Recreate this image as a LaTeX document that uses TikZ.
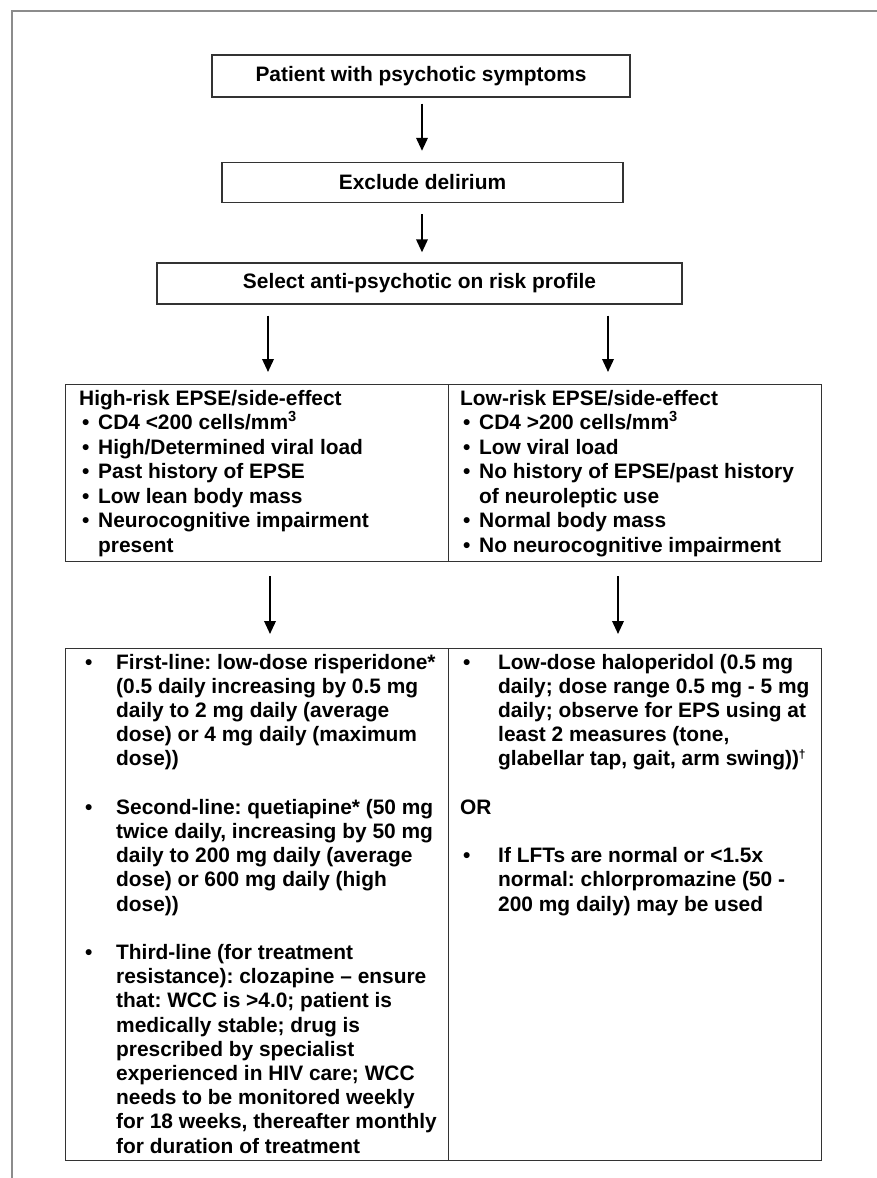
\documentclass[tikz,border=0pt]{standalone}
\usepackage{fontspec}
\setmainfont{Liberation Sans}
\usetikzlibrary{arrows.meta}
\newcommand\mytf{\bfseries\fontsize{20.9}{24.2}\selectfont\frenchspacing}
\begin{document}
\frenchspacing
\begin{tikzpicture}[x=1pt,y=-1pt,
  box/.style={draw=black!80, line width=1.4pt, inner sep=0pt, font=\mytf},
  cell/.style={draw=black!80, line width=1.4pt, inner sep=0pt, anchor=north west},
  arr/.style={-{Triangle[length=13pt,width=11.5pt]}, line width=2pt},
  txt/.style={anchor=base west, inner sep=0pt, font=\mytf},
  frame/.style={draw=black!45, line width=2pt}]
\useasboundingbox (0,0) rectangle (877,1178);
\fill[white] (0,0) rectangle (877,1178);
\draw[frame] (877,11) -- (12,11) -- (12,1178);

% top boxes
\node[box, minimum width=418pt, minimum height=42pt] (b1) at (421,76) {Patient with psychotic symptoms};
\node[box, minimum width=401pt, minimum height=40pt] (b2) at (422.5,182.5) {Exclude delirium};
\node[box, minimum width=525pt, minimum height=41pt] (b3) at (419.5,283.5) {Select anti-psychotic on risk profile};

% tables
\node[cell, minimum width=383pt, minimum height=177pt] (hr) at (65,384) {};
\node[cell, minimum width=373pt, minimum height=177pt] (lr) at (448,384) {};
\node[cell, minimum width=383pt, minimum height=512pt] (ht) at (65,648) {};
\node[cell, minimum width=373pt, minimum height=512pt] (lt) at (448,648) {};

% arrow x positions
\coordinate (xa) at (422,0);
\coordinate (xl3) at (268,0);
\coordinate (xr3) at (608,0);
\coordinate (xl4) at (270,0);
\coordinate (xr4) at (618,0);

\draw[arr] ([yshift=-6pt]b1.south -| xa) -- ([yshift=11pt]b2.north -| xa);
\draw[arr] ([yshift=-11pt]b2.south -| xa) -- ([yshift=10pt]b3.north -| xa);
\draw[arr] ([yshift=-11pt]b3.south -| xl3) -- ([yshift=12pt]hr.north -| xl3);
\draw[arr] ([yshift=-11pt]b3.south -| xr3) -- ([yshift=12pt]lr.north -| xr3);
\draw[arr] ([yshift=-14pt]hr.south -| xl4) -- ([yshift=14pt]ht.north -| xl4);
\draw[arr] ([yshift=-14pt]lr.south -| xr4) -- ([yshift=14pt]lt.north -| xr4);

% high-risk column
\node[txt] (hrt) at (79,405) {High-risk EPSE/side-effect};
\node[txt] (hb1) at (82,429.5) {•};
\node[txt] (ht1) at (98,429.5) {CD4 <200 cells/mm\textsuperscript{3}};
\node[txt] (hb2) at (82,454) {•};
\node[txt] (ht2) at (98,454) {High/Determined viral load};
\node[txt] (hb3) at (82,478.5) {•};
\node[txt] (ht3) at (98,478.5) {Past history of EPSE};
\node[txt] (hb4) at (82,503) {•};
\node[txt] (ht4) at (98,503) {Low lean body mass};
\node[txt] (hb5) at (82,527.5) {•};
\node[txt] (ht5) at (98,527.5) {Neurocognitive impairment};
\node[txt] (ht6) at (98,552) {present};

% low-risk column
\node[txt] (lrt) at (460,405) {Low-risk EPSE/side-effect};
\node[txt] (lb1) at (463,429.5) {•};
\node[txt] (lt1) at (479,429.5) {CD4 >200 cells/mm\textsuperscript{3}};
\node[txt] (lb2) at (463,454) {•};
\node[txt] (lt2) at (479,454) {Low viral load};
\node[txt] (lb3) at (463,478.5) {•};
\node[txt] (lt3) at (479,478.5) {No history of EPSE/past history};
\node[txt] (lt4) at (479,503) {of neuroleptic use};
\node[txt] (lb5) at (463,527.5) {•};
\node[txt] (lt5) at (479,527.5) {Normal body mass};
\node[txt] (lb6) at (463,552) {•};
\node[txt] (lt6) at (479,552) {No neurocognitive impairment};

% treatment, high-risk
\node[txt] (tb1) at (85,669) {•};
\node[txt] (tt1) at (116,669) {\parbox[t]{330pt}{\raggedright First-line: low-dose risperidone*\\
(0.5 daily increasing by 0.5 mg\\
daily to 2 mg daily (average\\
dose) or 4 mg daily (maximum\\
dose))}};
\node[txt] (tb2) at (85,814.2) {•};
\node[txt] (tt2) at (116,814.2) {\parbox[t]{330pt}{\raggedright Second-line: quetiapine* (50 mg\\
twice daily, increasing by 50 mg\\
daily to 200 mg daily (average\\
dose) or 600 mg daily (high\\
dose))}};
\node[txt] (tb3) at (85,959.4) {•};
\node[txt] (tt3) at (116,959.4) {\parbox[t]{330pt}{\raggedright Third-line (for treatment\\
resistance): clozapine – ensure\\
that: WCC is >4.0; patient is\\
medically stable; drug is\\
prescribed by specialist\\
experienced in HIV care; WCC\\
needs to be monitored weekly\\
for 18 weeks, thereafter monthly\\
for duration of treatment}};

% treatment, low-risk
\node[txt] (sb1) at (463,669) {•};
\node[txt] (st1) at (498,669) {\parbox[t]{322pt}{\raggedright Low-dose haloperidol (0.5 mg\\
daily; dose range 0.5 mg - 5 mg\\
daily; observe for EPS using at\\
least 2 measures (tone,\\
glabellar tap, gait, arm swing))\textsuperscript{\fontsize{12}{12}\selectfont †}}};
\node[txt] (sor) at (460,814.2) {OR};
\node[txt] (sb2) at (463,862.6) {•};
\node[txt] (st2) at (498,862.6) {\parbox[t]{322pt}{\raggedright If LFTs are normal or <1.5x\\
normal: chlorpromazine (50 -\\
200 mg daily) may be used}};
\end{tikzpicture}
\end{document}
